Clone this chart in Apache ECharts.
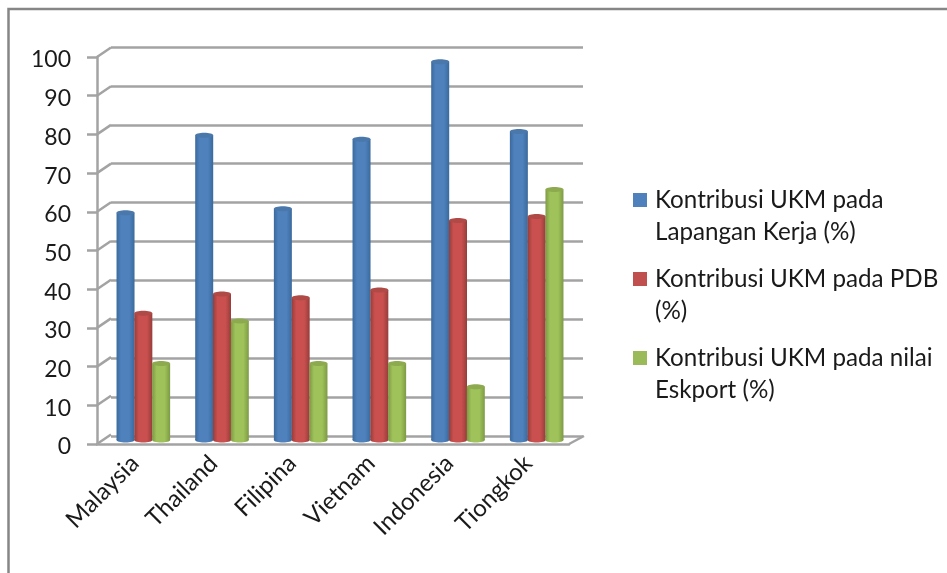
<!DOCTYPE html>
<html><head><meta charset="utf-8">
<style>html,body{margin:0;padding:0;background:#fff}#c{width:947px;height:573px}</style>
<script src="https://cdn.jsdelivr.net/npm/echarts@6/dist/echarts.min.js"></script>
</head><body><div id="c"></div>
<script>
const categories = ['Malaysia','Thailand','Filipina','Vietnam','Indonesia','Tiongkok'];
const lapanganKerja = [59,79,60,78,98,80];
const pdb = [33,38,37,39,57,58];
const eskport = [20,31,20,20,14,65];
const yTicks = [0,10,20,30,40,50,60,70,80,90,100];
const seriesNames = ['Kontribusi UKM pada\nLapangan Kerja (%)','Kontribusi UKM pada PDB\n(%)','Kontribusi UKM pada nilai\nEskport (%)'];

const gridColor = '#a3a3a3';
const FONT = 'Lato';
const chart = echarts.init(document.getElementById('c'), null, {renderer:'canvas'});

function cyl(colors, idx){
  return function(params, api){
    const p = api.coord([api.value(0), api.value(1)]);
    const base = api.coord([api.value(0), 0]);
    const w = 18;
    const cx = p[0] + 7 + (idx-1)*17.8;
    const topY = p[1] - 3, botY = base[1] - 4;
    const grad = new echarts.graphic.LinearGradient(0,0,1,0,[
      {offset:0,color:colors[0]},{offset:0.25,color:colors[1]},{offset:0.7,color:colors[1]},{offset:1,color:colors[0]}]);
    return {type:'group',children:[
      {type:'rect',shape:{x:cx-w/2,y:topY,width:w,height:botY-topY},style:{fill:grad}},
      {type:'ellipse',shape:{cx:cx,cy:botY,rx:w/2,ry:2.5},style:{fill:grad}},
      {type:'ellipse',shape:{cx:cx,cy:topY,rx:w/2,ry:2.5},style:{fill:colors[2]}}
    ]};
  };
}
const palette = [
  {legend:'#4f81bd',c:['#3a6a9c','#4f81bd','#4a78ab']},
  {legend:'#c0504d',c:['#963d3b','#c9504e','#b04a47']},
  {legend:'#9bbb59',c:['#7d9a44','#9fc25a','#8dab4e']}
];
const values = [lapanganKerja,pdb,eskport];
const legendIcon = 'path://M0,0h10v10h-10z M0,33h0.01';

chart.setOption({
  animation:false,
  backgroundColor:'#fff',
  graphic:[{type:'rect',shape:{x:8.5,y:9,width:960,height:600},style:{fill:'none',stroke:'#868686',lineWidth:2.5},z:-1}],
  legend:{
    orient:'vertical',left:628,top:179,itemWidth:14,itemHeight:49,itemGap:15,
    icon:legendIcon,selectedMode:false,
    data:seriesNames,
    textStyle:{fontFamily:FONT,fontSize:24.2,color:'#1a1a1a',lineHeight:32,padding:[0,0,0,3]}
  },
  grid:[
    {left:97,top:57,width:472,height:387},
    {left:111,top:47,width:472,height:389}
  ],
  xAxis:[
    {gridIndex:0,type:'category',data:categories,
      axisLine:{lineStyle:{color:gridColor,width:2.5}},
      axisTick:{length:9,lineStyle:{color:gridColor,width:2.5}},
      axisLabel:{rotate:45,fontFamily:FONT,fontSize:24,color:'#1a1a1a',margin:14,interval:0,padding:[0,2,0,0]}},
    {gridIndex:1,type:'category',data:categories,show:false}
  ],
  yAxis:[
    {gridIndex:0,type:'value',min:0,max:100,interval:10,
      axisLine:{show:true,lineStyle:{color:gridColor,width:2.5}},
      axisTick:{show:true,length:10,lineStyle:{color:gridColor,width:2.5}},
      splitLine:{show:false},
      axisLabel:{margin:26,formatter:v=>'{a|'+v+'}',
        rich:{a:{fontFamily:FONT,fontSize:23,color:'#1a1a1a',padding:[6,0,0,0]}}}},
    {gridIndex:1,type:'value',min:0,max:100,interval:10,
      axisLine:{show:false},axisTick:{show:false},axisLabel:{show:false},
      splitLine:{show:true,lineStyle:{color:gridColor,width:2.5}}}
  ],
  series:[
    {type:'custom',name:'connectors',xAxisIndex:0,yAxisIndex:0,silent:true,z:1,
      data:yTicks.map(v=>[0,v]),
      renderItem:function(params,api){
        const y = api.coord([0,api.value(1)])[1];
        const x0 = params.coordSys.x, x1 = x0 + params.coordSys.width;
        const st = {stroke:gridColor,lineWidth:2.5,fill:'none'};
        const ch = [{type:'line',shape:{x1:x0,y1:y,x2:x0+14,y2:y-9.5},style:st}];
        if(api.value(1)===0) ch.push({type:'line',shape:{x1:x1,y1:y,x2:x1+15,y2:y-8},style:st});
        return {type:'group',children:ch};
      }},
    ...values.map((arr,i)=>({
      type:'custom',name:seriesNames[i],xAxisIndex:0,yAxisIndex:0,z:3,
      itemStyle:{color:palette[i].legend},
      data:arr.map((v,k)=>[k,v]),
      encode:{x:0,y:1},
      renderItem:cyl(palette[i].c,i)
    }))
  ]
});
</script></body></html>
